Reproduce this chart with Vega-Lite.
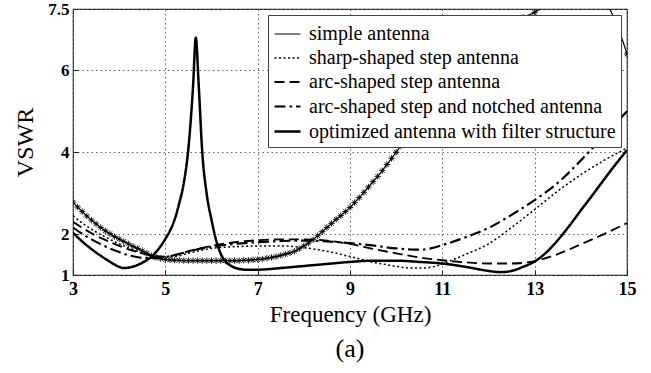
{
  "$schema": "https://vega.github.io/schema/vega-lite/v6.json",
  "width": 554,
  "height": 266,
  "autosize": {"type": "none"},
  "padding": {"left": 73, "top": 9, "right": 24, "bottom": 98},
  "background": "white",
  "config": {"view": {"stroke": "#222", "strokeWidth": 1.2}, "font": "Liberation Serif"},
  "title": {"text": "(a)", "orient": "bottom", "fontSize": 26, "fontWeight": "normal", "font": "Liberation Serif", "color": "black", "offset": 10},
  "data": {"values": [
    {"series": "simple antenna", "freq": 3.0, "vswr": 2.78},
    {"series": "simple antenna", "freq": 3.1, "vswr": 2.66},
    {"series": "simple antenna", "freq": 3.2, "vswr": 2.55},
    {"series": "simple antenna", "freq": 3.3, "vswr": 2.44},
    {"series": "simple antenna", "freq": 3.4, "vswr": 2.34},
    {"series": "simple antenna", "freq": 3.5, "vswr": 2.25},
    {"series": "simple antenna", "freq": 3.6, "vswr": 2.16},
    {"series": "simple antenna", "freq": 3.7, "vswr": 2.08},
    {"series": "simple antenna", "freq": 3.8, "vswr": 2.01},
    {"series": "simple antenna", "freq": 3.9, "vswr": 1.94},
    {"series": "simple antenna", "freq": 4.0, "vswr": 1.88},
    {"series": "simple antenna", "freq": 4.1, "vswr": 1.82},
    {"series": "simple antenna", "freq": 4.2, "vswr": 1.76},
    {"series": "simple antenna", "freq": 4.3, "vswr": 1.70},
    {"series": "simple antenna", "freq": 4.4, "vswr": 1.65},
    {"series": "simple antenna", "freq": 4.5, "vswr": 1.59},
    {"series": "simple antenna", "freq": 4.6, "vswr": 1.53},
    {"series": "simple antenna", "freq": 4.7, "vswr": 1.47},
    {"series": "simple antenna", "freq": 4.8, "vswr": 1.43},
    {"series": "simple antenna", "freq": 4.9, "vswr": 1.40},
    {"series": "simple antenna", "freq": 5.0, "vswr": 1.38},
    {"series": "simple antenna", "freq": 5.1, "vswr": 1.37},
    {"series": "simple antenna", "freq": 5.2, "vswr": 1.36},
    {"series": "simple antenna", "freq": 5.3, "vswr": 1.36},
    {"series": "simple antenna", "freq": 5.4, "vswr": 1.35},
    {"series": "simple antenna", "freq": 5.5, "vswr": 1.35},
    {"series": "simple antenna", "freq": 5.6, "vswr": 1.35},
    {"series": "simple antenna", "freq": 5.7, "vswr": 1.35},
    {"series": "simple antenna", "freq": 5.8, "vswr": 1.35},
    {"series": "simple antenna", "freq": 5.9, "vswr": 1.35},
    {"series": "simple antenna", "freq": 6.0, "vswr": 1.35},
    {"series": "simple antenna", "freq": 6.1, "vswr": 1.35},
    {"series": "simple antenna", "freq": 6.2, "vswr": 1.35},
    {"series": "simple antenna", "freq": 6.3, "vswr": 1.35},
    {"series": "simple antenna", "freq": 6.4, "vswr": 1.35},
    {"series": "simple antenna", "freq": 6.5, "vswr": 1.35},
    {"series": "simple antenna", "freq": 6.6, "vswr": 1.35},
    {"series": "simple antenna", "freq": 6.7, "vswr": 1.36},
    {"series": "simple antenna", "freq": 6.8, "vswr": 1.36},
    {"series": "simple antenna", "freq": 6.9, "vswr": 1.37},
    {"series": "simple antenna", "freq": 7.0, "vswr": 1.38},
    {"series": "simple antenna", "freq": 7.1, "vswr": 1.39},
    {"series": "simple antenna", "freq": 7.2, "vswr": 1.41},
    {"series": "simple antenna", "freq": 7.3, "vswr": 1.43},
    {"series": "simple antenna", "freq": 7.4, "vswr": 1.45},
    {"series": "simple antenna", "freq": 7.5, "vswr": 1.48},
    {"series": "simple antenna", "freq": 7.6, "vswr": 1.51},
    {"series": "simple antenna", "freq": 7.7, "vswr": 1.54},
    {"series": "simple antenna", "freq": 7.8, "vswr": 1.58},
    {"series": "simple antenna", "freq": 7.9, "vswr": 1.64},
    {"series": "simple antenna", "freq": 8.0, "vswr": 1.71},
    {"series": "simple antenna", "freq": 8.1, "vswr": 1.78},
    {"series": "simple antenna", "freq": 8.2, "vswr": 1.86},
    {"series": "simple antenna", "freq": 8.3, "vswr": 1.96},
    {"series": "simple antenna", "freq": 8.4, "vswr": 2.06},
    {"series": "simple antenna", "freq": 8.5, "vswr": 2.16},
    {"series": "simple antenna", "freq": 8.6, "vswr": 2.26},
    {"series": "simple antenna", "freq": 8.7, "vswr": 2.36},
    {"series": "simple antenna", "freq": 8.8, "vswr": 2.45},
    {"series": "simple antenna", "freq": 8.9, "vswr": 2.55},
    {"series": "simple antenna", "freq": 9.0, "vswr": 2.65},
    {"series": "simple antenna", "freq": 9.1, "vswr": 2.77},
    {"series": "simple antenna", "freq": 9.2, "vswr": 2.89},
    {"series": "simple antenna", "freq": 9.3, "vswr": 3.02},
    {"series": "simple antenna", "freq": 9.4, "vswr": 3.15},
    {"series": "simple antenna", "freq": 9.5, "vswr": 3.28},
    {"series": "simple antenna", "freq": 9.6, "vswr": 3.41},
    {"series": "simple antenna", "freq": 9.7, "vswr": 3.55},
    {"series": "simple antenna", "freq": 9.8, "vswr": 3.70},
    {"series": "simple antenna", "freq": 9.9, "vswr": 3.85},
    {"series": "simple antenna", "freq": 10.0, "vswr": 4.00},
    {"series": "simple antenna", "freq": 10.1, "vswr": 4.15},
    {"series": "simple antenna", "freq": 10.2, "vswr": 4.30},
    {"series": "simple antenna", "freq": 10.3, "vswr": 4.45},
    {"series": "simple antenna", "freq": 10.4, "vswr": 4.60},
    {"series": "simple antenna", "freq": 10.5, "vswr": 4.75},
    {"series": "simple antenna", "freq": 10.75, "vswr": 5.1},
    {"series": "simple antenna", "freq": 11.0, "vswr": 5.45},
    {"series": "simple antenna", "freq": 11.25, "vswr": 5.8},
    {"series": "simple antenna", "freq": 11.5, "vswr": 6.12},
    {"series": "simple antenna", "freq": 11.75, "vswr": 6.42},
    {"series": "simple antenna", "freq": 12.0, "vswr": 6.7},
    {"series": "simple antenna", "freq": 12.25, "vswr": 6.95},
    {"series": "simple antenna", "freq": 12.5, "vswr": 7.15},
    {"series": "simple antenna", "freq": 12.75, "vswr": 7.3},
    {"series": "simple antenna", "freq": 13.0, "vswr": 7.42},
    {"series": "simple antenna", "freq": 13.25, "vswr": 7.6},
    {"series": "simple antenna", "freq": 13.5, "vswr": 7.8},
    {"series": "simple antenna", "freq": 14.0, "vswr": 7.95},
    {"series": "simple antenna", "freq": 14.5, "vswr": 7.7},
    {"series": "simple antenna", "freq": 14.75, "vswr": 7.2},
    {"series": "simple antenna", "freq": 15.0, "vswr": 6.4},

    {"series": "sharp-shaped step antenna", "freq": 3.0, "vswr": 2.45},
    {"series": "sharp-shaped step antenna", "freq": 3.25, "vswr": 2.23},
    {"series": "sharp-shaped step antenna", "freq": 3.5, "vswr": 2.05},
    {"series": "sharp-shaped step antenna", "freq": 3.75, "vswr": 1.9},
    {"series": "sharp-shaped step antenna", "freq": 4.0, "vswr": 1.76},
    {"series": "sharp-shaped step antenna", "freq": 4.25, "vswr": 1.64},
    {"series": "sharp-shaped step antenna", "freq": 4.5, "vswr": 1.53},
    {"series": "sharp-shaped step antenna", "freq": 4.75, "vswr": 1.46},
    {"series": "sharp-shaped step antenna", "freq": 5.0, "vswr": 1.43},
    {"series": "sharp-shaped step antenna", "freq": 5.25, "vswr": 1.46},
    {"series": "sharp-shaped step antenna", "freq": 5.5, "vswr": 1.53},
    {"series": "sharp-shaped step antenna", "freq": 5.75, "vswr": 1.6},
    {"series": "sharp-shaped step antenna", "freq": 6.0, "vswr": 1.65},
    {"series": "sharp-shaped step antenna", "freq": 6.5, "vswr": 1.69},
    {"series": "sharp-shaped step antenna", "freq": 7.0, "vswr": 1.71},
    {"series": "sharp-shaped step antenna", "freq": 7.5, "vswr": 1.71},
    {"series": "sharp-shaped step antenna", "freq": 8.0, "vswr": 1.67},
    {"series": "sharp-shaped step antenna", "freq": 8.5, "vswr": 1.58},
    {"series": "sharp-shaped step antenna", "freq": 9.0, "vswr": 1.45},
    {"series": "sharp-shaped step antenna", "freq": 9.25, "vswr": 1.38},
    {"series": "sharp-shaped step antenna", "freq": 9.5, "vswr": 1.31},
    {"series": "sharp-shaped step antenna", "freq": 9.75, "vswr": 1.26},
    {"series": "sharp-shaped step antenna", "freq": 10.0, "vswr": 1.21},
    {"series": "sharp-shaped step antenna", "freq": 10.3, "vswr": 1.17},
    {"series": "sharp-shaped step antenna", "freq": 10.6, "vswr": 1.17},
    {"series": "sharp-shaped step antenna", "freq": 10.9, "vswr": 1.23},
    {"series": "sharp-shaped step antenna", "freq": 11.2, "vswr": 1.36},
    {"series": "sharp-shaped step antenna", "freq": 11.5, "vswr": 1.5},
    {"series": "sharp-shaped step antenna", "freq": 12.0, "vswr": 1.76},
    {"series": "sharp-shaped step antenna", "freq": 12.5, "vswr": 2.16},
    {"series": "sharp-shaped step antenna", "freq": 13.0, "vswr": 2.6},
    {"series": "sharp-shaped step antenna", "freq": 13.5, "vswr": 3.05},
    {"series": "sharp-shaped step antenna", "freq": 14.0, "vswr": 3.45},
    {"series": "sharp-shaped step antenna", "freq": 14.5, "vswr": 3.8},
    {"series": "sharp-shaped step antenna", "freq": 15.0, "vswr": 4.1},

    {"series": "arc-shaped step antenna", "freq": 3.0, "vswr": 2.3},
    {"series": "arc-shaped step antenna", "freq": 3.25, "vswr": 2.12},
    {"series": "arc-shaped step antenna", "freq": 3.5, "vswr": 1.96},
    {"series": "arc-shaped step antenna", "freq": 3.75, "vswr": 1.83},
    {"series": "arc-shaped step antenna", "freq": 4.0, "vswr": 1.71},
    {"series": "arc-shaped step antenna", "freq": 4.25, "vswr": 1.61},
    {"series": "arc-shaped step antenna", "freq": 4.5, "vswr": 1.53},
    {"series": "arc-shaped step antenna", "freq": 4.75, "vswr": 1.47},
    {"series": "arc-shaped step antenna", "freq": 5.0, "vswr": 1.45},
    {"series": "arc-shaped step antenna", "freq": 5.25, "vswr": 1.5},
    {"series": "arc-shaped step antenna", "freq": 5.5, "vswr": 1.58},
    {"series": "arc-shaped step antenna", "freq": 5.75, "vswr": 1.65},
    {"series": "arc-shaped step antenna", "freq": 6.0, "vswr": 1.71},
    {"series": "arc-shaped step antenna", "freq": 6.5, "vswr": 1.8},
    {"series": "arc-shaped step antenna", "freq": 7.0, "vswr": 1.85},
    {"series": "arc-shaped step antenna", "freq": 7.5, "vswr": 1.87},
    {"series": "arc-shaped step antenna", "freq": 8.0, "vswr": 1.87},
    {"series": "arc-shaped step antenna", "freq": 8.5, "vswr": 1.84},
    {"series": "arc-shaped step antenna", "freq": 9.0, "vswr": 1.76},
    {"series": "arc-shaped step antenna", "freq": 9.5, "vswr": 1.64},
    {"series": "arc-shaped step antenna", "freq": 10.0, "vswr": 1.53},
    {"series": "arc-shaped step antenna", "freq": 10.5, "vswr": 1.43},
    {"series": "arc-shaped step antenna", "freq": 11.0, "vswr": 1.36},
    {"series": "arc-shaped step antenna", "freq": 11.5, "vswr": 1.31},
    {"series": "arc-shaped step antenna", "freq": 12.0, "vswr": 1.28},
    {"series": "arc-shaped step antenna", "freq": 12.5, "vswr": 1.28},
    {"series": "arc-shaped step antenna", "freq": 13.0, "vswr": 1.34},
    {"series": "arc-shaped step antenna", "freq": 13.5, "vswr": 1.51},
    {"series": "arc-shaped step antenna", "freq": 14.0, "vswr": 1.75},
    {"series": "arc-shaped step antenna", "freq": 14.5, "vswr": 2.0},
    {"series": "arc-shaped step antenna", "freq": 15.0, "vswr": 2.27},

    {"series": "arc-shaped step and notched antenna", "freq": 3.0, "vswr": 2.16},
    {"series": "arc-shaped step and notched antenna", "freq": 3.25, "vswr": 1.97},
    {"series": "arc-shaped step and notched antenna", "freq": 3.5, "vswr": 1.81},
    {"series": "arc-shaped step and notched antenna", "freq": 3.75, "vswr": 1.67},
    {"series": "arc-shaped step and notched antenna", "freq": 4.0, "vswr": 1.56},
    {"series": "arc-shaped step and notched antenna", "freq": 4.25, "vswr": 1.47},
    {"series": "arc-shaped step and notched antenna", "freq": 4.5, "vswr": 1.42},
    {"series": "arc-shaped step and notched antenna", "freq": 4.75, "vswr": 1.41},
    {"series": "arc-shaped step and notched antenna", "freq": 5.0, "vswr": 1.44},
    {"series": "arc-shaped step and notched antenna", "freq": 5.25, "vswr": 1.5},
    {"series": "arc-shaped step and notched antenna", "freq": 5.5, "vswr": 1.57},
    {"series": "arc-shaped step and notched antenna", "freq": 5.75, "vswr": 1.64},
    {"series": "arc-shaped step and notched antenna", "freq": 6.0, "vswr": 1.69},
    {"series": "arc-shaped step and notched antenna", "freq": 6.5, "vswr": 1.76},
    {"series": "arc-shaped step and notched antenna", "freq": 7.0, "vswr": 1.8},
    {"series": "arc-shaped step and notched antenna", "freq": 7.5, "vswr": 1.83},
    {"series": "arc-shaped step and notched antenna", "freq": 8.0, "vswr": 1.84},
    {"series": "arc-shaped step and notched antenna", "freq": 8.5, "vswr": 1.82},
    {"series": "arc-shaped step and notched antenna", "freq": 9.0, "vswr": 1.78},
    {"series": "arc-shaped step and notched antenna", "freq": 9.5, "vswr": 1.72},
    {"series": "arc-shaped step and notched antenna", "freq": 10.0, "vswr": 1.65},
    {"series": "arc-shaped step and notched antenna", "freq": 10.5, "vswr": 1.62},
    {"series": "arc-shaped step and notched antenna", "freq": 10.75, "vswr": 1.65},
    {"series": "arc-shaped step and notched antenna", "freq": 11.0, "vswr": 1.73},
    {"series": "arc-shaped step and notched antenna", "freq": 11.5, "vswr": 1.92},
    {"series": "arc-shaped step and notched antenna", "freq": 12.0, "vswr": 2.15},
    {"series": "arc-shaped step and notched antenna", "freq": 12.5, "vswr": 2.47},
    {"series": "arc-shaped step and notched antenna", "freq": 13.0, "vswr": 2.83},
    {"series": "arc-shaped step and notched antenna", "freq": 13.5, "vswr": 3.25},
    {"series": "arc-shaped step and notched antenna", "freq": 14.0, "vswr": 3.8},
    {"series": "arc-shaped step and notched antenna", "freq": 14.5, "vswr": 4.4},
    {"series": "arc-shaped step and notched antenna", "freq": 15.0, "vswr": 5.0},

    {"series": "optimized antenna with filter structure", "freq": 3.0, "vswr": 2.03},
    {"series": "optimized antenna with filter structure", "freq": 3.25, "vswr": 1.77},
    {"series": "optimized antenna with filter structure", "freq": 3.5, "vswr": 1.55},
    {"series": "optimized antenna with filter structure", "freq": 3.75, "vswr": 1.36},
    {"series": "optimized antenna with filter structure", "freq": 4.0, "vswr": 1.2},
    {"series": "optimized antenna with filter structure", "freq": 4.1, "vswr": 1.17},
    {"series": "optimized antenna with filter structure", "freq": 4.25, "vswr": 1.19},
    {"series": "optimized antenna with filter structure", "freq": 4.5, "vswr": 1.3},
    {"series": "optimized antenna with filter structure", "freq": 4.75, "vswr": 1.5},
    {"series": "optimized antenna with filter structure", "freq": 5.0, "vswr": 1.88},
    {"series": "optimized antenna with filter structure", "freq": 5.1, "vswr": 2.08},
    {"series": "optimized antenna with filter structure", "freq": 5.2, "vswr": 2.35},
    {"series": "optimized antenna with filter structure", "freq": 5.3, "vswr": 2.75},
    {"series": "optimized antenna with filter structure", "freq": 5.4, "vswr": 3.25},
    {"series": "optimized antenna with filter structure", "freq": 5.5, "vswr": 4.1},
    {"series": "optimized antenna with filter structure", "freq": 5.6, "vswr": 5.6},
    {"series": "optimized antenna with filter structure", "freq": 5.66, "vswr": 6.8},
    {"series": "optimized antenna with filter structure", "freq": 5.72, "vswr": 5.7},
    {"series": "optimized antenna with filter structure", "freq": 5.8, "vswr": 4.0},
    {"series": "optimized antenna with filter structure", "freq": 5.9, "vswr": 2.95},
    {"series": "optimized antenna with filter structure", "freq": 6.0, "vswr": 2.35},
    {"series": "optimized antenna with filter structure", "freq": 6.1, "vswr": 1.85},
    {"series": "optimized antenna with filter structure", "freq": 6.2, "vswr": 1.52},
    {"series": "optimized antenna with filter structure", "freq": 6.3, "vswr": 1.33},
    {"series": "optimized antenna with filter structure", "freq": 6.4, "vswr": 1.24},
    {"series": "optimized antenna with filter structure", "freq": 6.5, "vswr": 1.18},
    {"series": "optimized antenna with filter structure", "freq": 6.75, "vswr": 1.13},
    {"series": "optimized antenna with filter structure", "freq": 7.0, "vswr": 1.13},
    {"series": "optimized antenna with filter structure", "freq": 7.5, "vswr": 1.17},
    {"series": "optimized antenna with filter structure", "freq": 8.0, "vswr": 1.22},
    {"series": "optimized antenna with filter structure", "freq": 8.5, "vswr": 1.27},
    {"series": "optimized antenna with filter structure", "freq": 9.0, "vswr": 1.32},
    {"series": "optimized antenna with filter structure", "freq": 9.5, "vswr": 1.35},
    {"series": "optimized antenna with filter structure", "freq": 10.0, "vswr": 1.35},
    {"series": "optimized antenna with filter structure", "freq": 10.5, "vswr": 1.32},
    {"series": "optimized antenna with filter structure", "freq": 11.0, "vswr": 1.28},
    {"series": "optimized antenna with filter structure", "freq": 11.5, "vswr": 1.2},
    {"series": "optimized antenna with filter structure", "freq": 12.0, "vswr": 1.1},
    {"series": "optimized antenna with filter structure", "freq": 12.25, "vswr": 1.07},
    {"series": "optimized antenna with filter structure", "freq": 12.5, "vswr": 1.1},
    {"series": "optimized antenna with filter structure", "freq": 12.75, "vswr": 1.2},
    {"series": "optimized antenna with filter structure", "freq": 13.0, "vswr": 1.33},
    {"series": "optimized antenna with filter structure", "freq": 13.25, "vswr": 1.55},
    {"series": "optimized antenna with filter structure", "freq": 13.5, "vswr": 1.85},
    {"series": "optimized antenna with filter structure", "freq": 13.75, "vswr": 2.2},
    {"series": "optimized antenna with filter structure", "freq": 14.0, "vswr": 2.58},
    {"series": "optimized antenna with filter structure", "freq": 14.25, "vswr": 2.95},
    {"series": "optimized antenna with filter structure", "freq": 14.5, "vswr": 3.33},
    {"series": "optimized antenna with filter structure", "freq": 14.75, "vswr": 3.7},
    {"series": "optimized antenna with filter structure", "freq": 15.0, "vswr": 4.05}
  ]},
  "layer": [
    {
      "mark": {"type": "line", "interpolate": "monotone", "clip": true, "color": "black"},
      "encoding": {
        "x": {"field": "freq", "type": "quantitative",
          "scale": {"domain": [3, 15], "nice": false, "zero": false},
          "axis": {"values": [3, 5, 7, 9, 11, 13, 15], "title": "Frequency (GHz)", "titleFont": "Liberation Serif", "titleFontSize": 23, "titleFontWeight": "normal", "titleColor": "black", "titlePadding": 5,
            "labelFont": "Liberation Serif", "labelFontSize": 18, "labelFontWeight": "bold", "labelColor": "black", "labelFlush": false, "labelPadding": 10,
            "grid": true, "gridDash": [1.5, 3], "gridColor": "#666", "gridWidth": 1, "tickSize": -5, "tickColor": "#222", "domain": false}},
        "y": {"field": "vswr", "type": "quantitative",
          "scale": {"domain": [1, 7.5], "nice": false, "zero": false},
          "axis": {"values": [1, 2, 4, 6, 7.5], "format": ".1~f", "title": "VSWR", "titleFont": "Liberation Serif", "titleFontSize": 24, "titleFontWeight": "normal", "titleColor": "black", "titlePadding": 10,
            "labelFont": "Liberation Serif", "labelFontSize": 17, "labelFontWeight": "bold", "labelColor": "black", "labelFlush": false, "labelPadding": 9,
            "grid": true, "gridDash": [1.5, 3], "gridColor": "#666", "gridWidth": 1, "tickSize": -5, "tickColor": "#222", "domain": false}},
        "strokeDash": {"field": "series", "type": "nominal",
          "scale": {"domain": ["simple antenna", "sharp-shaped step antenna", "arc-shaped step antenna", "arc-shaped step and notched antenna", "optimized antenna with filter structure"],
            "range": [[1, 0], [2, 2.5], [10, 5], [11, 4, 2.5, 4], [1, 0]]},
          "legend": {"title": null, "orient": "none", "legendX": 195, "legendY": 6, "fillColor": "white", "strokeColor": "#444", "padding": 5,
            "labelFont": "Liberation Serif", "labelFontSize": 20, "labelColor": "black", "labelLimit": 400, "symbolType": "stroke", "symbolSize": 676, "symbolStrokeColor": "black", "rowPadding": 0, "labelOffset": 7}},
        "strokeWidth": {"field": "series", "type": "nominal",
          "scale": {"domain": ["simple antenna", "sharp-shaped step antenna", "arc-shaped step antenna", "arc-shaped step and notched antenna", "optimized antenna with filter structure"],
            "range": [1.2, 2.5, 3.5, 3.5, 3.5]},
          "legend": {"title": null, "orient": "none", "legendX": 195, "legendY": 6, "fillColor": "white", "strokeColor": "#444", "padding": 5,
            "labelFont": "Liberation Serif", "labelFontSize": 20, "labelColor": "black", "labelLimit": 400, "symbolType": "stroke", "symbolSize": 676, "symbolStrokeColor": "black", "rowPadding": 0, "labelOffset": 7}}
      }
    },
    {
      "transform": [{"filter": "datum.series === 'simple antenna'"}],
      "mark": {"type": "point", "shape": "M-1,0L1,0M0,-1L0,1M-0.7,-0.7L0.7,0.7M-0.7,0.7L0.7,-0.7", "filled": false, "stroke": "black", "strokeWidth": 0.9, "size": 40, "opacity": 1, "clip": true},
      "encoding": {
        "x": {"field": "freq", "type": "quantitative"},
        "y": {"field": "vswr", "type": "quantitative"}
      }
    }
  ]
}
